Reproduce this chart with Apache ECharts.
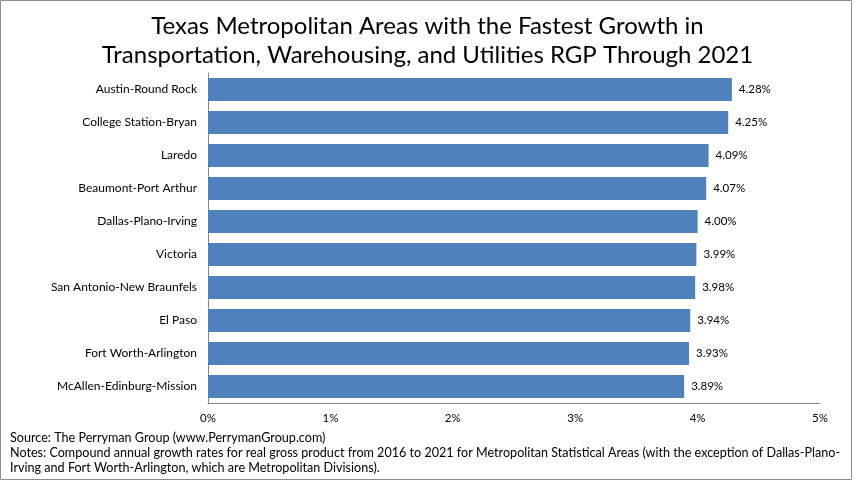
<!DOCTYPE html>
<html>
<head>
<meta charset="utf-8">
<script src="https://cdn.jsdelivr.net/npm/echarts@6/dist/echarts.min.js"></script>
<style>
html, body { margin: 0; padding: 0; background: #fff; }
#chart { width: 855px; height: 482px; }
</style>
</head>
<body>
<div id="chart"></div>
<script>
var metros = ['Austin-Round Rock', 'College Station-Bryan', 'Laredo', 'Beaumont-Port Arthur',
    'Dallas-Plano-Irving', 'Victoria', 'San Antonio-New Braunfels', 'El Paso',
    'Fort Worth-Arlington', 'McAllen-Edinburg-Mission'];
var growth = [4.28, 4.25, 4.09, 4.07, 4.00, 3.99, 3.98, 3.94, 3.93, 3.89];
var xTicks = [0, 1, 2, 3, 4, 5];

var chart = echarts.init(document.getElementById('chart'));
var font = 'Lato, "Liberation Sans", sans-serif';

var option = {
    animation: false,
    textStyle: { fontFamily: font },
    title: {
        text: 'Texas Metropolitan Areas with the Fastest Growth in\nTransportation, Warehousing, and Utilities RGP Through 2021',
        left: 'center',
        top: 7,
        textStyle: { fontFamily: font, fontSize: 24, fontWeight: 'normal', color: '#000', lineHeight: 29 }
    },
    grid: { left: 208, right: 35, top: 73, bottom: 79, containLabel: false },
    xAxis: {
        type: 'value',
        min: xTicks[0],
        max: xTicks[xTicks.length - 1],
        interval: 1,
        splitLine: { show: false },
        axisTick: { show: false },
        axisLine: { show: true, lineStyle: { color: '#868686' } },
        axisLabel: { formatter: '{value}%', fontSize: 11.5, color: '#000', margin: 9 }
    },
    yAxis: {
        type: 'category',
        inverse: true,
        data: metros,
        axisTick: { show: false },
        axisLine: { show: true, lineStyle: { color: '#868686' } },
        axisLabel: { fontSize: 12, color: '#000', margin: 11 }
    },
    series: [{
        type: 'bar',
        data: growth,
        barCategoryGap: '30%',
        itemStyle: { color: '#4F81BD' },
        label: {
            show: true,
            position: 'right',
            distance: 7,
            fontSize: 11.5,
            color: '#000',
            formatter: function (p) { return p.value.toFixed(2) + '%'; }
        }
    }],
    graphic: [
        {
            type: 'rect',
            shape: { x: 0.5, y: 0.5, width: 851, height: 479 },
            style: { fill: 'none', stroke: '#8c8c8c', lineWidth: 1 },
            silent: true
        },
        {
            type: 'text',
            left: 10,
            top: 430,
            style: {
                text: 'Source: The Perryman Group (www.PerrymanGroup.com)\nNotes: Compound annual growth rates for real gross product from 2016 to 2021 for Metropolitan Statistical Areas (with the exception of Dallas-Plano-\nIrving and Fort Worth-Arlington, which are Metropolitan Divisions).',
                font: '12.6px ' + font,
                lineHeight: 15,
                fill: '#000'
            }
        }
    ]
};

chart.setOption(option);
window.addEventListener('resize', function () {
    chart.resize();
});
</script>
</body>
</html>
